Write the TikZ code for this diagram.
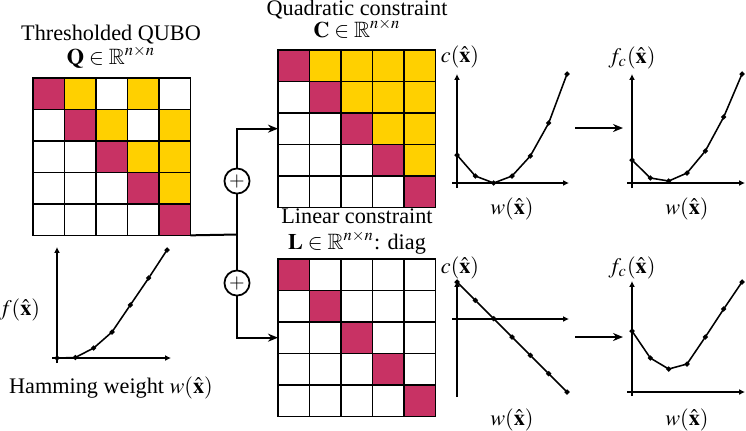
\documentclass[tikz,border=0pt]{standalone}
\usepackage{amsmath,amssymb}
\usepackage{mathptmx}
\usepackage{fontspec}
\setmainfont{Liberation Serif}
\usepackage{tikz}
\usetikzlibrary{arrows.meta, positioning, calc}

\definecolor{diagmag}{RGB}{200,50,100}
\definecolor{offgold}{RGB}{255,208,0}

\begin{document}
\begin{tikzpicture}[
    x=0.45pt, y=-0.45pt,
    mat/.style={rectangle, minimum size=70.4pt, inner sep=0pt, anchor=north west},
    gridline/.style={line width=0.6pt, line cap=rect},
    lbl/.style={font=\fontsize{10}{12}\selectfont, inner sep=0pt, anchor=base},
    plus/.style={circle, draw, line width=0.8pt, minimum size=11.3pt, inner sep=0pt, font=\small},
    link/.style={line width=0.9pt},
    arr/.style={-{Stealth[length=4.5pt,width=3.6pt]}, line width=0.9pt},
    axis/.style={-{Latex[length=2.6pt,width=2.6pt]}, line width=1pt},
    curve/.style={line width=0.7pt, mark=*, mark size=0.75pt}
]
\useasboundingbox (0,0) rectangle (746,430);

% matrices
\node[mat] (Q) at (33,78) {};
\node[mat] (C) at (278,50) {};
\node[mat] (L) at (278,259) {};

\foreach \r/\c in {0/1,0/3,1/2,1/4,2/3,2/4,3/4}
  \fill[offgold] ($(Q.north west)+(\c*31.3,\r*31.3)$) rectangle +(31.3,31.3);
\foreach \r in {0,...,3}{
  \pgfmathtruncatemacro{\s}{\r+1}
  \foreach \c in {\s,...,4}
    \fill[offgold] ($(C.north west)+(\c*31.3,\r*31.3)$) rectangle +(31.3,31.3);
}
\foreach \m in {Q,C,L}
  \foreach \k in {0,...,4}
    \fill[diagmag] ($(\m.north west)+(\k*31.3,\k*31.3)$) rectangle +(31.3,31.3);
\foreach \m in {Q,C,L}
  \foreach \i in {0,...,5}{
    \draw[gridline] ($(\m.north west)!\i/5!(\m.north east)$) -- ($(\m.south west)!\i/5!(\m.south east)$);
    \draw[gridline] ($(\m.north west)!\i/5!(\m.south west)$) -- ($(\m.north east)!\i/5!(\m.south east)$);
  }

% titles
\node[lbl] (qname) at (111,40) {Thresholded QUBO};
\node[lbl] (qdef) at (111,64) {$\mathbf{Q}\in\mathbb{R}^{n\times n}$};
\node[lbl] (cname) at (357,15) {Quadratic constraint};
\node[lbl] (cdef) at (357,37) {$\mathbf{C}\in\mathbb{R}^{n\times n}$};
\node[lbl] (lname) at (357,223) {Linear constraint};
\node[lbl] (ldef) at (357,249) {$\mathbf{L}\in\mathbb{R}^{n\times n}$: diag};

% combining the QUBO with the constraints
\coordinate (jn) at (237,234.5);
\node[plus] (plusA) at (237,181) {$+$};
\node[plus] (plusB) at (237,283) {$+$};
\draw[link] (Q.south east) -- (jn);
\draw[link] (jn) -- (plusA);
\draw[link] (jn) -- (plusB);
\draw[arr] (plusA) |- (C.west);
\draw[arr] (plusB) |- (L.west);

% objective plot
\draw[axis] (52,358) -- (171,358);
\draw[axis] (57,363) -- (57,247);
\draw[curve] plot coordinates {(57,358) (75.3,357.5) (93.7,348) (112,332) (130.3,305) (148.7,278) (167,250)};
\node[lbl] (fy) at (19.5,315) {$f(\hat{\mathbf{x}})$};
\node[lbl] (fx) at (111,393) {Hamming weight $w(\hat{\mathbf{x}})$};

% quadratic constraint plots
\draw[axis] (452,183) -- (569,183);
\draw[axis] (457,188) -- (457,74);
\draw[curve] plot coordinates {(457,155) (475.3,176) (493.7,183) (512,176) (530.3,156) (548.7,123) (567,74)};
\node[lbl] (cqy) at (460,62) {$c(\hat{\mathbf{x}})$};
\node[lbl] (cqx) at (512,214) {$w(\hat{\mathbf{x}})$};

\coordinate (qfrom) at (575,128);
\coordinate (qto) at (623,128);
\draw[arr] (qfrom) -- (qto);

\draw[axis] (627,183) -- (745,183);
\draw[axis] (632,188) -- (632,74);
\draw[curve] plot coordinates {(632,160) (650.3,178) (668.7,181) (687,173) (705.3,151) (723.7,117) (742,74)};
\node[lbl] (fqy) at (632,63) {$f_c(\hat{\mathbf{x}})$};
\node[lbl] (fqx) at (687,214) {$w(\hat{\mathbf{x}})$};

% linear constraint plots
\draw[axis] (452,319) -- (569,319);
\draw[axis] (457,397) -- (457,281);
\draw[curve] plot coordinates {(457,282) (475.3,300.3) (493.7,318.7) (512,337) (530.3,355.3) (548.7,373.7) (567,392)};
\node[lbl] (cly) at (460,273) {$c(\hat{\mathbf{x}})$};
\node[lbl] (clx) at (512,425) {$w(\hat{\mathbf{x}})$};

\coordinate (lfrom) at (575,337);
\coordinate (lto) at (623,337);
\draw[arr] (lfrom) -- (lto);

\draw[axis] (627,392) -- (745,392);
\draw[axis] (632,396) -- (632,281);
\draw[curve] plot coordinates {(632,331) (650.3,358) (668.7,369) (687,364) (705.3,337) (723.7,309) (742,282)};
\node[lbl] (fly) at (632,273) {$f_c(\hat{\mathbf{x}})$};
\node[lbl] (flx) at (687,425) {$w(\hat{\mathbf{x}})$};

\end{tikzpicture}
\end{document}
